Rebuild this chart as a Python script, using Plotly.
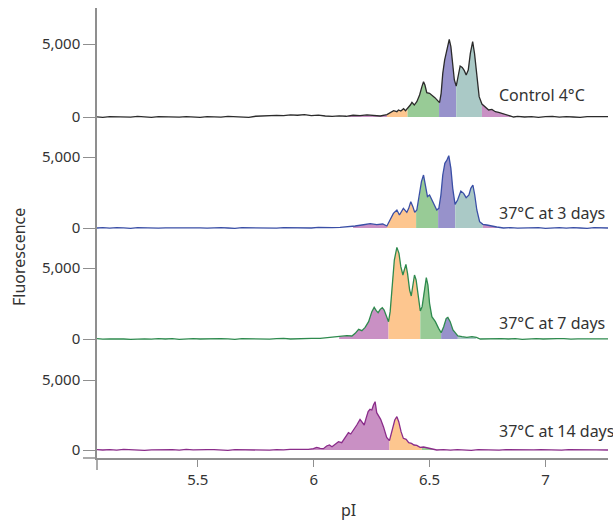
import numpy as np
import plotly.graph_objects as go

# ---------------- data ----------------
panel_labels = ["Control 4°C", "37°C at 3 days", "37°C at 7 days", "37°C at 14 days"]
line_colors = ["#2b2b2b", "#3a4fa6", "#2e8a4e", "#8a2c8a"]

# Panel 1: Control 4°C
p1_pi = [5.065, 5.09, 5.12, 5.15, 5.18, 5.21, 5.24, 5.27, 5.30, 5.33, 5.36, 5.39, 5.42, 5.45, 5.48,
         5.51, 5.54, 5.57, 5.60, 5.63, 5.66, 5.69, 5.72, 5.75, 5.78, 5.81, 5.84, 5.87, 5.90, 5.93,
         5.96, 5.99, 6.02, 6.05, 6.08, 6.11, 6.14, 6.17, 6.20, 6.23, 6.26,
         6.287, 6.316, 6.345, 6.359, 6.366, 6.376, 6.388, 6.396, 6.405, 6.417, 6.424, 6.434, 6.445,
         6.457, 6.467, 6.474, 6.480, 6.488, 6.500, 6.511, 6.523, 6.535, 6.543, 6.550, 6.557, 6.565,
         6.575, 6.585, 6.592, 6.599, 6.607, 6.615, 6.624, 6.632, 6.641, 6.650, 6.658, 6.667, 6.676,
         6.686, 6.694, 6.704, 6.714, 6.726, 6.740, 6.755, 6.769, 6.784, 6.798, 6.820, 6.841, 6.863,
         6.88, 6.91, 6.94, 6.97, 7.00, 7.03, 7.06, 7.09, 7.12, 7.15, 7.18, 7.21, 7.24, 7.27]
p1_val = [10, -20, 30, 0, 20, -10, 40, 10, -30, 20, 0, 30, -10, 20, 10,
          -20, 30, 0, -10, 40, 10, 30, -20, 50, 80, 60, 110, 90, 140, 120,
          160, 100, 130, 70, 40, 80, 50, 120, 90, 140, 110,
          70, 160, 434, 365, 480, 410, 570, 434, 570, 820, 1005, 820, 1050,
          1507, 2080, 2420, 2190, 1666, 1620, 1484, 1324, 1119, 982, 1620, 2990, 3900,
          4700, 5320, 4817, 3676, 2535, 2120, 2877, 3494, 3400, 3175, 2877, 3220, 4360,
          5160, 4360, 2763, 1393, 890, 708, 480, 525, 365, 320, 206, 137, 0,
          40, 0, 30, -20, 20, 40, -10, 30, 0, -20, 30, 10, -10, 20]

# Panel 2: 37°C at 3 days
p2_pi = [5.065, 5.09, 5.12, 5.15, 5.18, 5.21, 5.24, 5.27, 5.30, 5.33, 5.36, 5.39, 5.42, 5.45, 5.48,
         5.51, 5.54, 5.57, 5.60, 5.63, 5.66, 5.69, 5.72, 5.75, 5.78, 5.81, 5.84, 5.87, 5.90, 5.93,
         5.96, 5.99, 6.02, 6.05, 6.08,
         6.114, 6.143, 6.179, 6.208, 6.244, 6.272, 6.298, 6.316, 6.330, 6.344, 6.359, 6.370, 6.387,
         6.402, 6.410, 6.419, 6.428, 6.436, 6.445, 6.457, 6.465, 6.474, 6.482, 6.491, 6.500, 6.510,
         6.520, 6.531, 6.540, 6.549, 6.557, 6.566, 6.575, 6.583, 6.592, 6.600, 6.610, 6.621, 6.635,
         6.647, 6.658, 6.670, 6.678, 6.687, 6.695, 6.704, 6.716, 6.730, 6.747, 6.769, 6.790, 6.819,
         6.85, 6.88, 6.91, 6.94, 6.97, 7.00, 7.03, 7.06, 7.09, 7.12, 7.15, 7.18, 7.21, 7.24, 7.27]
p2_val = [0, 20, -10, 30, 10, -20, 20, 0, 30, -10, 10, 20, -20, 30, 0,
          10, -10, 30, 20, 0, -20, 20, 10, 30, 0, 20, -10, 30, 10, 40,
          20, 0, 40, 20, 30,
          47, 70, 141, 211, 305, 235, 282, 141, 563, 1033, 1268, 915, 1385,
          1103, 1385, 1855, 1502, 1103, 1268, 2324, 3263, 3732, 3028, 2206, 2324, 1972,
          1667, 1268, 1385, 2324, 3732, 4554, 4789, 5094, 4202, 2793, 1667, 1972, 2606,
          2441, 2136, 2324, 2793, 3028, 2324, 1268, 446, 258, 211, 117, 70, 0,
          30, -10, 20, 0, 30, -20, 10, 20, -10, 30, 0, -20, 20, 10, 0]

# Panel 3: 37°C at 7 days
p3_pi = [5.065, 5.09, 5.12, 5.15, 5.18, 5.21, 5.24, 5.27, 5.30, 5.33, 5.36, 5.39, 5.42, 5.45, 5.48,
         5.51, 5.54, 5.57, 5.60, 5.63, 5.66, 5.69, 5.72, 5.75, 5.78, 5.81, 5.84, 5.87, 5.90, 5.93,
         5.96, 5.99,
         6.028, 6.057, 6.086, 6.114, 6.143, 6.165, 6.179, 6.194, 6.208, 6.222, 6.237, 6.251, 6.261,
         6.270, 6.278, 6.287, 6.296, 6.304, 6.313, 6.323, 6.330, 6.339, 6.348, 6.359, 6.368, 6.376,
         6.385, 6.391, 6.398, 6.405, 6.414, 6.421, 6.428, 6.435, 6.442, 6.450, 6.460, 6.468, 6.477,
         6.486, 6.493, 6.500, 6.510, 6.525, 6.539, 6.550, 6.561, 6.572, 6.579, 6.589, 6.601, 6.611,
         6.622, 6.640, 6.661, 6.683, 6.702, 6.719,
         6.75, 6.78, 6.81, 6.84, 6.87, 6.90, 6.93, 6.96, 6.99, 7.02, 7.05, 7.08, 7.11, 7.14, 7.17,
         7.20, 7.23, 7.27]
p3_val = [20, -10, 10, 30, 0, -20, 20, 10, -10, 30, 0, 20, -20, 10, 30,
          0, 20, -10, 30, 10, -20, 20, 0, 30, 10, -10, 20, 40, 0, 30,
          20, 40,
          47, 94, 117, 164, 235, 211, 399, 681, 587, 822, 1221, 1925, 2230,
          1995, 1855, 2089, 2206, 2042, 1573, 1221, 1925, 3920, 5563, 6455, 6033, 5094,
          4507, 4859, 5258, 4624, 3450, 3028, 3920, 4507, 4155, 2981, 1972, 2277, 3450,
          4319, 3803, 2512, 1573, 1221, 751, 446, 869, 1456, 1526, 1221, 634, 399,
          211, 164, 117, 164, 117, 0,
          20, -10, 30, 0, 20, -20, 10, 30, 0, -10, 20, 30, -10, 10, 20,
          0, 30, 10]

# Panel 4: 37°C at 14 days
p4_pi = [5.065, 5.09, 5.12, 5.15, 5.18, 5.21, 5.24, 5.27, 5.30, 5.33, 5.36, 5.39, 5.42, 5.45, 5.48,
         5.51, 5.54, 5.57, 5.60, 5.63, 5.66, 5.69, 5.72, 5.75, 5.78, 5.81, 5.84, 5.87,
         5.898, 5.941, 5.977, 5.999, 6.013, 6.028, 6.042, 6.056, 6.068, 6.079, 6.092, 6.107, 6.121,
         6.135, 6.150, 6.160, 6.171, 6.186, 6.200, 6.209, 6.218, 6.226, 6.235, 6.243, 6.251, 6.258,
         6.265, 6.272, 6.281, 6.289, 6.301, 6.315, 6.327, 6.337, 6.350, 6.359, 6.367, 6.377, 6.387,
         6.399, 6.410, 6.422, 6.433, 6.445, 6.459, 6.474, 6.488, 6.510, 6.531,
         6.56, 6.59, 6.62, 6.65, 6.68, 6.71, 6.74, 6.77, 6.80, 6.83, 6.86, 6.89, 6.92, 6.95, 6.98,
         7.01, 7.04, 7.07, 7.10, 7.13, 7.16, 7.19, 7.22, 7.27]
p4_val = [30, 0, 20, -10, 40, 10, 30, -20, 10, 30, 0, 20, -10, 40, 10,
          -10, 20, 30, 0, -20, 20, 10, 30, 0, 20, -10, 30, 10,
          48, 24, 48, 95, 190, 119, 95, 286, 357, 238, 429, 595, 524,
          833, 1238, 1143, 1381, 1786, 2190, 1952, 1786, 2262, 2738, 2905, 2857, 3214,
          3452, 2667, 2381, 2190, 1667, 905, 667, 1310, 2143, 2381, 2024, 1310, 833,
          762, 524, 476, 357, 333, 190, 214, 167, 71, 0,
          20, -10, 30, 10, -20, 20, 0, 30, -10, 20, 10, 30, -20, 10, 20,
          0, 30, -10, 20, 10, -20, 20, 10, 0]

# charge-variant regions (start pI, end pI, colour key) per panel
fill_colors = {"acidic": "#c990c4", "a2": "#fdc68f", "a1": "#98cb96",
               "main": "#9792cb", "basic": "#aac9c6"}
p1_regions = [(6.15, 6.316, "acidic"), (6.316, 6.405, "a2"), (6.405, 6.541, "a1"),
              (6.541, 6.615, "main"), (6.615, 6.726, "basic"), (6.726, 6.85, "acidic")]
p2_regions = [(6.17, 6.316, "acidic"), (6.316, 6.442, "a2"), (6.442, 6.537, "a1"),
              (6.537, 6.611, "main"), (6.611, 6.730, "basic"), (6.730, 6.79, "acidic")]
p3_regions = [(6.11, 6.323, "acidic"), (6.323, 6.460, "a2"), (6.460, 6.550, "a1"),
              (6.550, 6.622, "main"), (6.622, 6.70, "basic")]
p4_regions = [(5.98, 6.327, "acidic"), (6.327, 6.467, "a2"), (6.467, 6.52, "a1")]

x_ticks = [5.5, 6, 6.5, 7]
x_tick_labels = ["5.5", "6", "6.5", "7"]
y_ticks = [0, 5000]
y_tick_labels = ["0", "5,000"]

panels = [(p1_pi, p1_val, p1_regions), (p2_pi, p2_val, p2_regions),
          (p3_pi, p3_val, p3_regions), (p4_pi, p4_val, p4_regions)]

# ---------------- layout geometry ----------------
W, H = 613, 521
ml, mr, mt, mb = 97, 5, 8, 63
plot_h = H - mt - mb
plot_w = W - ml - mr
# panel pixel bounds (top, bottom), zero pixel, pixels per 5000
pix = [(8, 125, 117, 73), (125, 236, 228, 71), (236, 347, 339, 71), (347, 458, 450, 70)]
label_y_px = [94.5, 213, 323, 431]

fig = go.Figure()
axis_col = "#8f8f8f"
font_fam = "Noto Sans, Open Sans, sans-serif"

for i, (xs, ys, regs) in enumerate(panels):
    yname = "y" if i == 0 else f"y{i+1}"
    xa = np.array(xs, float)
    ya = np.array(ys, float)
    for (a, b, key) in regs:
        m = (xa > a) & (xa < b)
        sx = np.concatenate([[a], xa[m], [b]])
        sy = np.interp(sx, xa, ya)
        fig.add_trace(go.Scatter(x=sx, y=sy, mode="lines", fill="tozeroy",
                                 fillcolor=fill_colors[key], line=dict(width=0),
                                 xaxis="x", yaxis=yname, hoverinfo="skip", showlegend=False))
    fig.add_trace(go.Scatter(x=xa, y=ya, mode="lines", line=dict(color=line_colors[i], width=1.3),
                             xaxis="x", yaxis=yname, showlegend=False, name=panel_labels[i]))

layout = dict(
    width=W, height=H, margin=dict(l=ml, r=mr, t=mt, b=mb),
    plot_bgcolor="white", paper_bgcolor="white",
    font=dict(family=font_fam, size=14, color="#333333"),
    xaxis=dict(range=[5.065, 7.27], tickvals=x_ticks, ticktext=x_tick_labels,
               ticks="outside", ticklen=7, tickcolor=axis_col, showline=True,
               linecolor=axis_col, linewidth=1.5, showgrid=False, zeroline=False,
               anchor="y4", tickfont=dict(size=15, color="#333333")),
    annotations=[], shapes=[],
)

for i, (top, bot, zero, sc) in enumerate(pix):
    key = "yaxis" if i == 0 else f"yaxis{i+1}"
    lo = (zero - bot) / sc * 5000
    hi = (zero - top) / sc * 5000
    d0 = (H - mb - bot) / plot_h
    d1 = (H - mb - top) / plot_h
    layout[key] = dict(range=[lo, hi], domain=[max(0, d0), min(1, d1)], anchor="x",
                       tickvals=y_ticks, ticktext=y_tick_labels, ticks="outside",
                       ticklen=12, tickcolor=axis_col, showline=True, linecolor=axis_col,
                       linewidth=1.5, showgrid=False, zeroline=False,
                       tickfont=dict(size=15, color="#333333"))
    yref = "y" if i == 0 else f"y{i+1}"
    layout["annotations"].append(dict(
        x=6.792, y=(zero - label_y_px[i]) / sc * 5000, xref="x", yref=yref,
        text=panel_labels[i], showarrow=False, xanchor="left", yanchor="middle",
        font=dict(size=16, color="#333333")))

layout["annotations"].append(dict(x=-(ml - 19) / plot_w, y=(H - mb - 257) / plot_h,
                                  xref="paper", yref="paper", text="Fluorescence",
                                  textangle=-90, showarrow=False, xanchor="center",
                                  yanchor="middle", font=dict(size=16, color="#333333")))
layout["annotations"].append(dict(x=(348 - ml) / plot_w, y=-(510 - (H - mb)) / plot_h,
                                  xref="paper", yref="paper", text="pI", showarrow=False,
                                  xanchor="center", yanchor="middle",
                                  font=dict(size=16, color="#333333")))
# axis line extensions (y axis below the x axis, x axis left of the y axis)
layout["shapes"].append(dict(type="line", xref="paper", yref="paper", x0=0, x1=0,
                             y0=0, y1=-12 / plot_h, line=dict(color=axis_col, width=1.5)))
layout["shapes"].append(dict(type="line", xref="paper", yref="paper", x0=-14 / plot_w,
                             x1=0, y0=0, y1=0, line=dict(color=axis_col, width=1.5)))

fig.update_layout(**layout)
fig.write_html("out.html", config={"displayModeBar": False},
               post_script="document.body.style.margin='0';document.body.style.overflow='hidden';")
